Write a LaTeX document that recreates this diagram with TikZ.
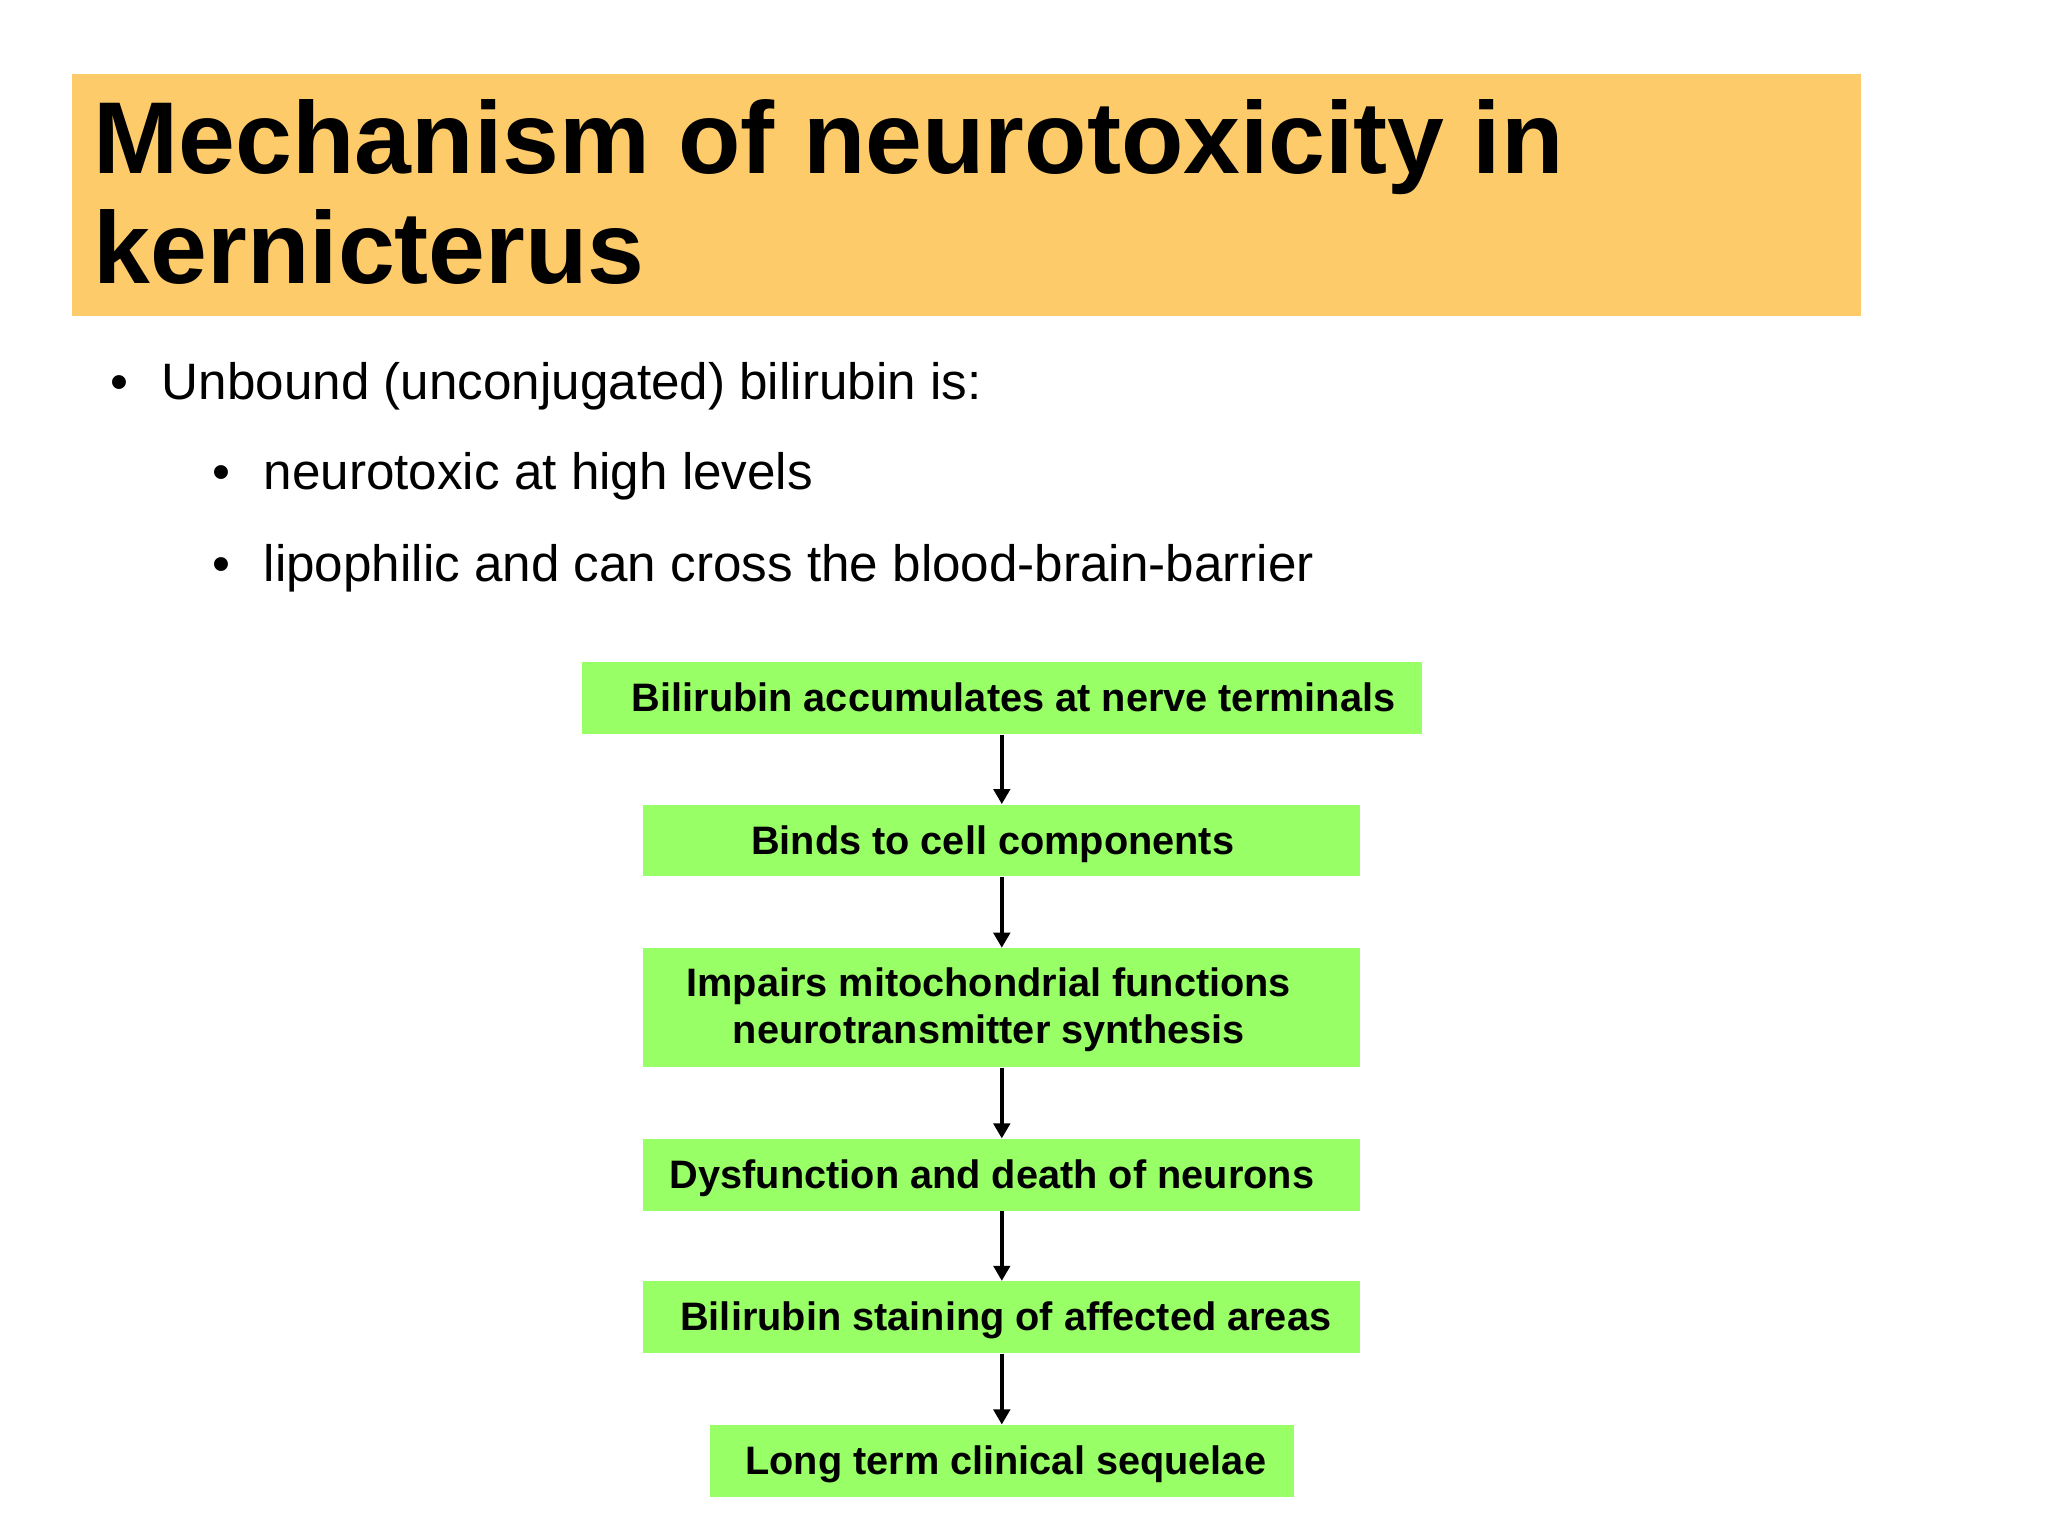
\documentclass[tikz,border=0pt]{standalone}
\usepackage{fontspec}
\setmainfont{Liberation Sans}
\usetikzlibrary{arrows.meta}
\definecolor{bannercol}{RGB}{254,203,106}
\definecolor{boxgreen}{RGB}{153,255,102}
\begin{document}
\begin{tikzpicture}[x=0.5pt,y=-0.5pt,
  banner/.style={fill=bannercol, draw=none, inner sep=0pt, rectangle},
  flowbox/.style={fill=boxgreen, draw=none, inner sep=0pt, rectangle, minimum height=27.5pt},
  titletext/.style={anchor=base west, inner sep=0pt, font=\fontsize{39.1}{41.75}\selectfont\bfseries},
  bullettext/.style={anchor=base west, inner sep=0pt, font=\fontsize{19.6}{23}\selectfont},
  boxtext/.style={anchor=base, inner sep=0pt, font=\fontsize{15.2}{18}\selectfont\bfseries},
  flowarrow/.style={-{Triangle[length=5.75pt,width=6.3pt]}, line width=1.3pt, draw=black}]
\useasboundingbox (0,0) rectangle (1568,1176);
\fill[white] (0,0) rectangle (1568,1176);
% title banner
\node[banner, minimum width=685pt, minimum height=92.5pt] (banner) at (740,149.5) {};
\node[titletext] (title1) at (71.5,133.2) {Mechanism of neurotoxicity in};
\node[titletext] (title2) at (71.5,216.7) {kernicterus};
% bullets
\node[bullettext] (bul1) at (84,306) {•};
\node[bullettext] (txt1) at (123.5,306) {Unbound (unconjugated) bilirubin is:};
\node[bullettext] (bul2) at (162,375) {•};
\node[bullettext] (txt2) at (201.5,375) {neurotoxic at high levels};
\node[bullettext] (bul3) at (162,445) {•};
\node[bullettext] (txt3) at (201.5,445) {lipophilic and can cross the blood-brain-barrier};
% flow boxes
\node[flowbox, minimum width=321.5pt] (b1) at (767,534.5) {};
\node[flowbox, minimum width=274.5pt] (b2) at (767,643.5) {};
\node[flowbox, minimum width=274.5pt, minimum height=45.5pt] (b3) at (767,771.5) {};
\node[flowbox, minimum width=274.5pt] (b4) at (767,899.5) {};
\node[flowbox, minimum width=274.5pt] (b5) at (767,1008.5) {};
\node[flowbox, minimum width=223.5pt] (b6) at (767,1118.5) {};
% box texts
\node[boxtext] (t1) at (776,545) {Bilirubin accumulates at nerve terminals};
\node[boxtext] (t2) at (760,654) {Binds to cell components};
\node[boxtext] (t3a) at (757,763) {Impairs mitochondrial functions};
\node[boxtext] (t3b) at (757,799) {neurotransmitter synthesis};
\node[boxtext] (t4) at (759.5,910) {Dysfunction and death of neurons};
\node[boxtext] (t5) at (770,1019) {Bilirubin staining of affected areas};
\node[boxtext] (t6) at (770,1129) {Long term clinical sequelae};
% arrows
\draw[flowarrow] (b1.south) -- (b2.north);
\draw[flowarrow] (b2.south) -- (b3.north);
\draw[flowarrow] (b3.south) -- (b4.north);
\draw[flowarrow] (b4.south) -- (b5.north);
\draw[flowarrow] (b5.south) -- (b6.north);
\end{tikzpicture}
\end{document}
